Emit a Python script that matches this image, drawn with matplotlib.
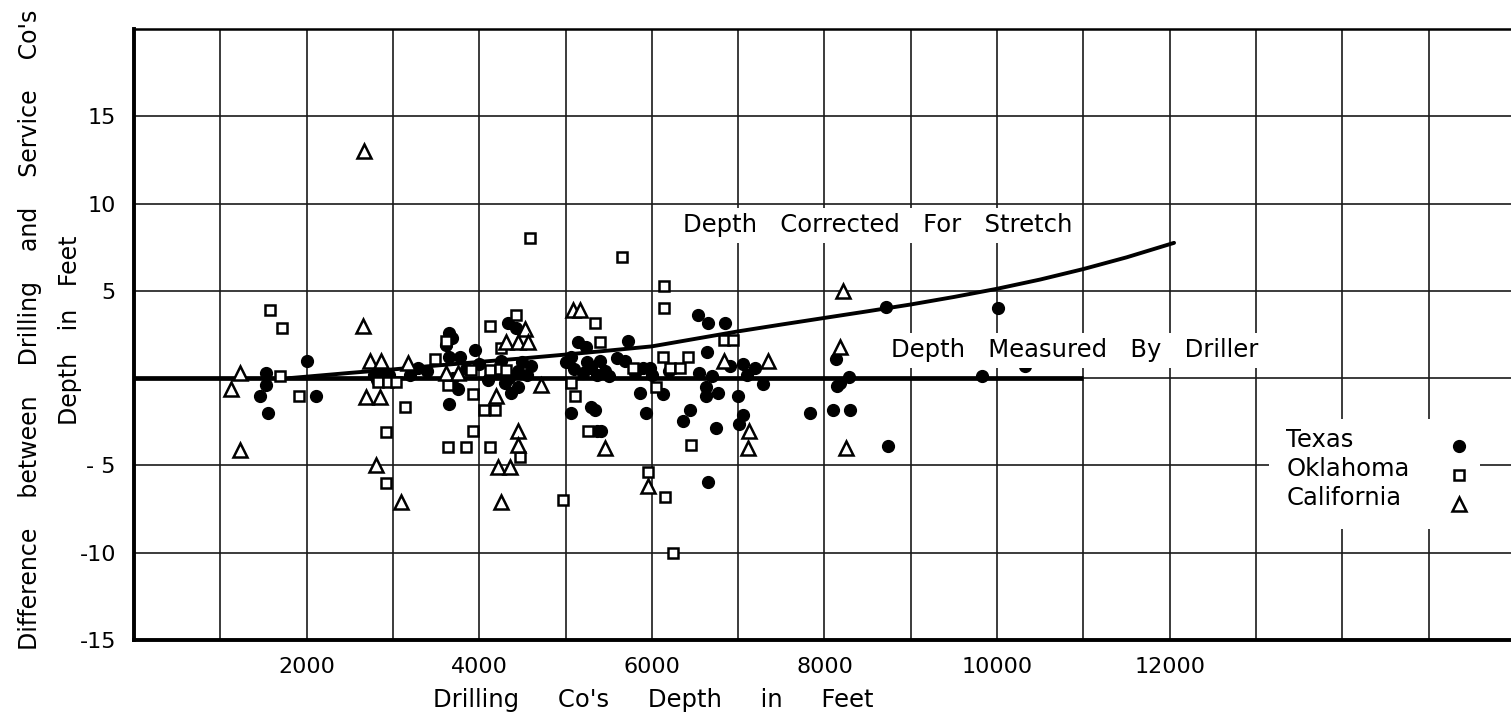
import matplotlib
matplotlib.use("Agg")
import matplotlib.pyplot as plt
from matplotlib.patches import Rectangle
from matplotlib.ticker import FixedLocator, FixedFormatter

plt.rcParams['font.family'] = ['DejaVu Sans']

# ---------------- data ----------------
texas_x = [1455, 1525, 1525, 1550, 2010, 2110,
           2780, 2820, 2870, 2900, 2950, 3200, 3290, 3400,
           3610, 3655, 3690, 3655, 3775, 3945, 3655, 3750, 3850, 3700,
           4000, 4100, 4200, 4250, 4330, 4420, 4370, 4445, 4350, 4450, 4500, 4550, 4600, 4300,
           5000, 5060, 5100, 5140, 5235, 5200, 5250, 5300, 5370, 5400, 5460, 5290, 5060, 5340,
           5370, 5410, 5500, 5600, 5690, 5720, 5800, 5900, 5975, 5860, 5930, 6000, 6125, 6200,
           6530, 6645, 6845, 6635, 6625, 6625, 6765, 6440, 6360, 6740, 6645, 6550, 6700,
           6900, 7050, 7200, 7000, 7055, 7015, 7285, 7100,
           7830, 8095, 8300, 8130, 8175, 8285, 8150, 8710, 8730, 9830, 10005, 10320]
texas_y = [-1.0, 0.3, -0.4, -2.0, 1.0, -1.0,
           0.2, -0.1, 0.3, 0.0, 0.2, 0.2, 0.6, 0.4,
           1.9, 2.6, 2.3, 1.2, 1.2, 1.6, -1.5, -0.6, 0.5, 0.0,
           0.8, -0.1, 0.3, 1.0, 3.15, 2.9, -0.85, -0.5, 0.0, 0.4, 0.9, 0.2, 0.7, -0.3,
           0.9, 1.2, 0.5, 2.05, 1.8, 0.3, 0.9, 0.6, 0.2, 1.0, 0.4, -1.65, -2.0, -1.85,
           -3.0, -3.0, 0.1, 1.15, 1.0, 2.15, 0.3, 0.6, 0.6, -0.85, -2.0, 0.2, -0.9, 0.4,
           3.6, 3.15, 3.15, 1.5, -0.5, -1.0, -0.85, -1.85, -2.45, -2.85, -5.95, 0.3, 0.1,
           0.7, 0.8, 0.6, -1.0, -2.1, -2.6, -0.35, 0.2,
           -2.0, -1.85, -1.85, 1.1, -0.3, 0.05, -0.45, 4.05, -3.9, 0.1, 4.0, 0.7]

oklahoma_x = [1570, 1720, 1690, 1910, 2830, 2940, 3030, 3135, 2920, 2920,
              3490, 3610, 3635, 3925, 3925, 3635, 3845, 4120, 4060, 4180,
              4120, 4420, 4250, 3900, 4120, 4235, 4310, 4470, 4585,
              5060, 5105, 5255, 4965, 5340, 5395, 5650, 6135, 6140,
              5955, 6150, 6240, 6455, 6830, 6935, 6125, 6415, 5780, 6210, 6325, 6045]
oklahoma_y = [3.9, 2.9, 0.1, -1.0, -0.2, -0.2, -0.2, -1.65, -3.1, -6.0,
              1.1, 2.1, -0.4, -0.9, -3.0, -3.95, -3.95, -3.95, -1.85, -1.85,
              3.0, 3.6, 1.7, 0.45, 0.45, 0.5, 0.45, -4.5, 8.0,
              -0.3, -1.0, -3.0, -7.0, 3.15, 2.05, 6.95, 5.3, 4.0,
              -5.4, -6.8, -10.0, -3.85, 2.2, 2.2, 1.2, 1.2, 0.6, 0.6, 0.6, -0.5]

california_x = [2670, 2650, 1225, 1120, 1225, 2730, 2860, 2685, 2845, 2800, 3095,
                3170, 3615, 3750, 4525, 4310, 4445, 4560, 4190, 4710, 4445, 4445,
                4215, 4355, 4250, 5085, 5165, 5455, 5955, 6830, 7345, 7130, 7110,
                8210, 8175, 8245]
california_y = [13.0, 3.0, 0.3, -0.6, -4.1, 1.0, 1.0, -1.1, -1.1, -5.0, -7.1,
                0.85, 0.3, 0.3, 2.8, 2.05, 2.05, 2.05, -1.0, -0.4, -3.0, -3.85,
                -5.1, -5.1, -7.1, 3.9, 3.9, -4.0, -6.2, 1.0, 1.0, -3.0, -4.0,
                5.0, 1.8, -4.0]

stretch_x = [1800, 2500, 3000, 3500, 4000, 4500, 5000, 5500, 6000, 6500, 7000,
             7500, 8000, 8500, 9000, 9500, 10000, 10500, 11000, 11500, 12050]
stretch_y = [0.0, 0.3, 0.5, 0.72, 0.93, 1.13, 1.35, 1.58, 1.82, 2.25, 2.68,
             3.07, 3.45, 3.83, 4.22, 4.65, 5.12, 5.65, 6.25, 6.92, 7.75]

driller_x = [0, 11000]
driller_y = [0, 0]

x_gridlines = [0, 1000, 2000, 3000, 4000, 5000, 6000, 7000, 8000,
               9000, 10000, 11000, 12000, 13000, 14000, 15000, 16000]
x_labelled = [2000, 4000, 6000, 8000, 10000, 12000]
y_gridlines = [-15, -10, -5, 0, 5, 10, 15, 20]
y_tick_labels = ["-15", "-10", "- 5", "", "5", "10", "15", ""]

series_names = ["Texas", "Oklahoma", "California"]

# ---------------- figure ----------------
fig = plt.figure(figsize=(15.11, 7.17), dpi=100)
ax = fig.add_axes([134 / 1511, 77 / 717, (1515 - 134) / 1511, 611 / 717])
ax.set_xlim(0, 16000)
ax.set_ylim(-15, 20)

ax.xaxis.set_major_locator(FixedLocator(x_gridlines))
ax.xaxis.set_major_formatter(FixedFormatter(
    [str(v) if v in x_labelled else "" for v in x_gridlines]))
ax.yaxis.set_major_locator(FixedLocator(y_gridlines))
ax.yaxis.set_major_formatter(FixedFormatter(y_tick_labels))
ax.tick_params(axis='both', length=0, labelsize=16, colors='black')
ax.tick_params(axis='x', pad=12)
ax.tick_params(axis='y', pad=13)
ax.grid(True, color='#1a1a1a', linewidth=1.2)
ax.set_axisbelow(True)

for side, lw in [('left', 2.8), ('bottom', 2.8), ('top', 1.8)]:
    ax.spines[side].set_linewidth(lw)
    ax.spines[side].set_color('black')
ax.spines['right'].set_visible(False)

# reference lines
ax.plot(driller_x, driller_y, color='black', linewidth=3.4, zorder=3,
        solid_capstyle='butt')
ax.plot(stretch_x, stretch_y, color='black', linewidth=2.8, zorder=3,
        solid_capstyle='round', solid_joinstyle='round')

# data points
circle_style = dict(marker='o', markersize=8.5, color='black')
square_style = dict(marker='s', markersize=7.5, markerfacecolor='white',
                    markeredgecolor='black', markeredgewidth=1.8)
triangle_style = dict(marker='^', markersize=10, markerfacecolor='white',
                      markeredgecolor='black', markeredgewidth=1.8)
ax.plot(texas_x, texas_y, linestyle='none', zorder=4, **circle_style)
ax.plot(oklahoma_x, oklahoma_y, linestyle='none', zorder=5, **square_style)
ax.plot(california_x, california_y, linestyle='none', zorder=5, **triangle_style)

# curve annotations
ax.text(6360, 8.75, "Depth   Corrected   For   Stretch", fontsize=17.5,
        va='center', ha='left', zorder=6,
        bbox=dict(facecolor='white', edgecolor='none', pad=4))
ax.text(8770, 1.6, "Depth   Measured   By   Driller", fontsize=17.5,
        va='center', ha='left', zorder=6,
        bbox=dict(facecolor='white', edgecolor='none', pad=4))

# legend (text left, marker right)
ax.add_patch(Rectangle((13150, -8.65), 2450, 6.3, facecolor='white',
                       edgecolor='none', zorder=2))
legend_y_text = [-3.55, -5.2, -6.85]
legend_styles = [circle_style, square_style, triangle_style]
for name, ty, st in zip(series_names, legend_y_text, legend_styles):
    ax.text(13350, ty, name, fontsize=17.5, va='center', ha='left', zorder=6)
    ax.plot([15350], [ty - 0.35], linestyle='none', zorder=6, **st)

# axis labels
ax.set_xlabel("Drilling     Co's     Depth     in     Feet", fontsize=17.5)
ax.xaxis.set_label_coords((653 - 134) / (1515 - 134), -(700 - 640) / 611)
ax.xaxis.label.set_va('center')

ax.set_ylabel("Difference    between    Drilling    and    Service    Co's\n"
              "Depth   in   Feet", fontsize=17, linespacing=1.8)
ax.yaxis.set_label_coords(-(134 - 50) / (1515 - 134), (640 - 330) / 611)
ax.yaxis.label.set_va('center')

fig.savefig("out.png", dpi=100)
